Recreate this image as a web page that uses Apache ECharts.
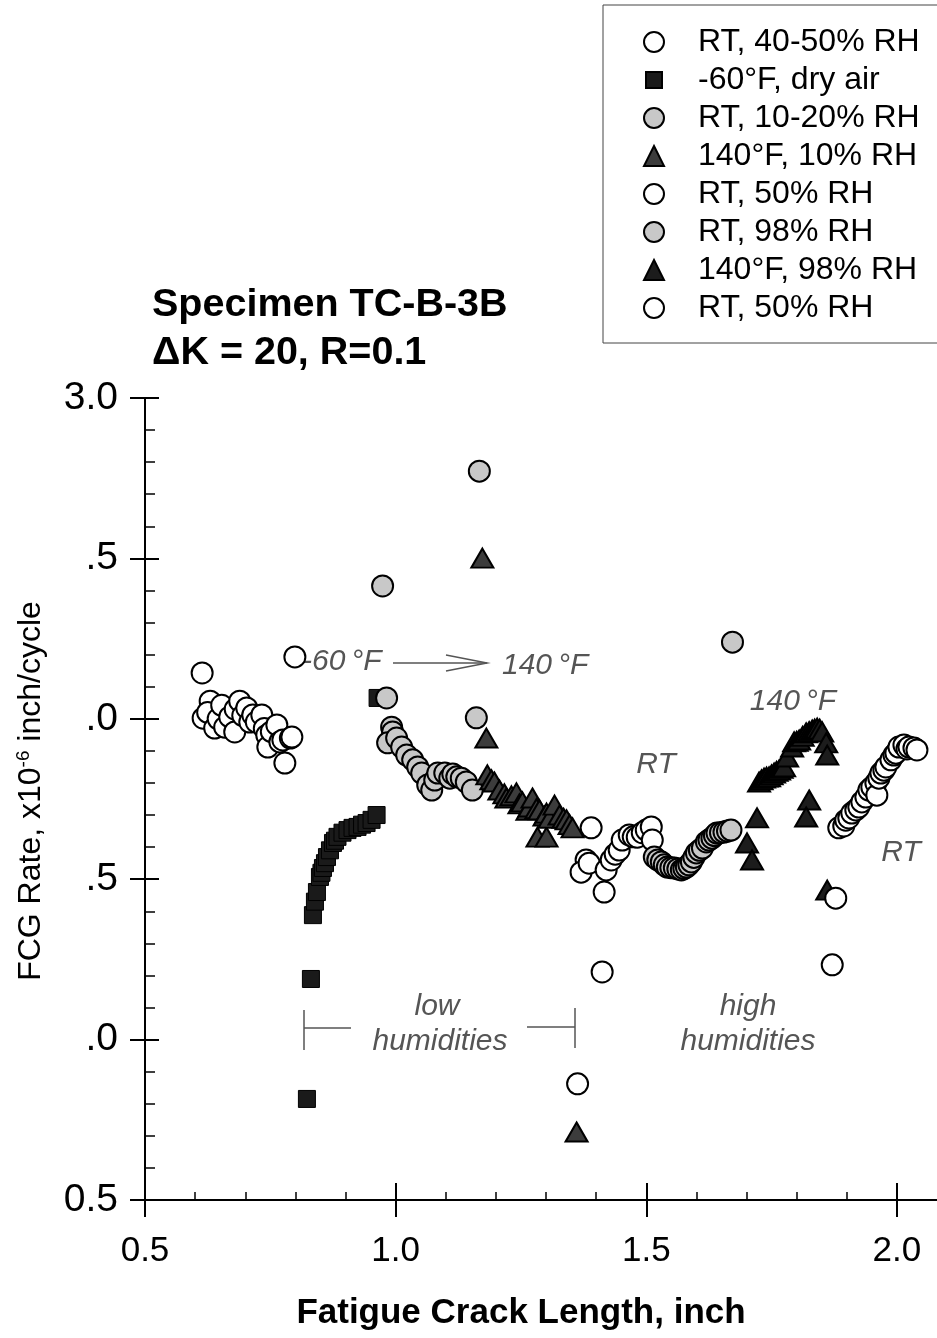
<!DOCTYPE html>
<html>
<head>
<meta charset="utf-8">
<script src="https://cdn.jsdelivr.net/npm/echarts@6/dist/echarts.min.js"></script>
<style>
html, body { margin: 0; padding: 0; background: #fff; }
#chart { width: 937px; height: 1338px; }
</style>
</head>
<body>
<div id="chart"></div>
<script>
// Crack length (inch), FCG rate pairs, one array per test environment
const rt4050 = [[0.614,2.143],[0.616,2.002],[0.630,2.055],[0.625,2.020],[0.639,1.971],[0.646,2.000],[0.653,2.042],[0.659,1.974],[0.669,2.006],[0.679,1.959],[0.680,2.030],[0.689,2.055],[0.695,2.010],[0.703,2.034],[0.709,1.990],[0.715,2.012],[0.722,1.990],[0.733,2.012],[0.738,1.970],[0.743,1.949],[0.745,1.912],[0.752,1.960],[0.763,1.981],[0.769,1.928],[0.775,1.934],[0.779,1.862],[0.790,1.940],[0.793,1.943],[0.799,2.193]];
const minus60Dry = [[0.823,0.815],[0.831,1.189],[0.835,1.388],[0.839,1.430],[0.843,1.460],[0.849,1.507],[0.852,1.520],[0.855,1.535],[0.859,1.550],[0.863,1.569],[0.869,1.590],[0.875,1.613],[0.879,1.620],[0.884,1.632],[0.894,1.645],[0.904,1.653],[0.914,1.660],[0.924,1.663],[0.933,1.670],[0.942,1.675],[0.952,1.685],[0.962,1.700],[0.964,2.065]];
const rt1020 = [[0.974,2.414],[0.982,2.065],[0.992,1.974],[0.994,1.959],[0.984,1.925],[1.002,1.940],[1.012,1.912],[1.022,1.887],[1.034,1.872],[1.044,1.850],[1.052,1.831],[1.064,1.794],[1.072,1.778],[1.078,1.809],[1.084,1.831],[1.098,1.831],[1.108,1.815],[1.114,1.828],[1.122,1.819],[1.131,1.815],[1.141,1.803],[1.153,1.778],[1.161,2.003],[1.167,2.772]];
const f140rh10 = [[1.173,2.501],[1.181,1.940],[1.183,1.825],[1.191,1.810],[1.197,1.803],[1.207,1.778],[1.217,1.766],[1.221,1.753],[1.231,1.760],[1.241,1.769],[1.247,1.735],[1.253,1.741],[1.263,1.715],[1.267,1.725],[1.273,1.753],[1.281,1.720],[1.287,1.716],[1.283,1.631],[1.297,1.697],[1.301,1.706],[1.301,1.631],[1.307,1.690],[1.317,1.731],[1.327,1.700],[1.335,1.690],[1.341,1.685],[1.347,1.670],[1.353,1.660],[1.361,0.712]];
const rt50a = [[1.390,1.660],[1.380,1.560],[1.370,1.522],[1.386,1.550],[1.416,1.460],[1.420,1.529],[1.430,1.560],[1.438,1.578],[1.446,1.591],[1.452,1.622],[1.466,1.638],[1.474,1.632],[1.482,1.631],[1.492,1.645],[1.500,1.653],[1.510,1.663],[1.512,1.622],[1.412,1.211],[1.363,0.862]];
const rt98 = [[1.516,1.569],[1.523,1.560],[1.530,1.554],[1.536,1.545],[1.542,1.538],[1.549,1.536],[1.556,1.535],[1.563,1.532],[1.570,1.529],[1.575,1.533],[1.580,1.538],[1.585,1.545],[1.590,1.554],[1.595,1.568],[1.600,1.582],[1.606,1.590],[1.612,1.597],[1.620,1.616],[1.625,1.622],[1.631,1.628],[1.636,1.636],[1.641,1.644],[1.648,1.645],[1.655,1.647],[1.662,1.650],[1.669,1.653],[1.672,2.239]];
const f140rh98 = [[1.701,1.613],[1.711,1.560],[1.721,1.691],[1.725,1.803],[1.730,1.810],[1.735,1.815],[1.740,1.818],[1.745,1.819],[1.750,1.825],[1.755,1.831],[1.760,1.836],[1.765,1.840],[1.770,1.846],[1.775,1.850],[1.781,1.881],[1.791,1.912],[1.795,1.928],[1.800,1.930],[1.805,1.934],[1.812,1.945],[1.819,1.956],[1.825,1.960],[1.831,1.965],[1.836,1.968],[1.841,1.971],[1.846,1.968],[1.851,1.959],[1.859,1.925],[1.861,1.887],[1.825,1.747],[1.819,1.694],[1.861,1.466]];
const rt50b = [[1.871,1.233],[1.878,1.441],[1.884,1.660],[1.894,1.666],[1.898,1.684],[1.904,1.691],[1.910,1.706],[1.918,1.716],[1.924,1.725],[1.930,1.741],[1.938,1.756],[1.944,1.778],[1.950,1.787],[1.958,1.800],[1.960,1.762],[1.964,1.815],[1.968,1.831],[1.974,1.840],[1.978,1.850],[1.988,1.872],[1.994,1.887],[1.998,1.893],[2.004,1.912],[2.014,1.918],[2.020,1.906],[2.024,1.912],[2.034,1.909],[2.040,1.903]];

const seriesNames = ['RT, 40-50% RH', '-60°F, dry air', 'RT, 10-20% RH', '140°F, 10% RH', 'RT, 50% RH', 'RT, 98% RH', '140°F, 98% RH', 'RT, 50% RH '];
const seriesData = [rt4050, minus60Dry, rt1020, f140rh10, rt50a, rt98, f140rh98, rt50b];

// Axis ticks and their printed labels
const xTickValues = [0.5, 1.0, 1.5, 2.0];
const xTickLabels = ['0.5', '1.0', '1.5', '2.0'];
const yTickValues = [0.5, 1.0, 1.5, 2.0, 2.5, 3.0];
const yTickLabels = ['0.5', '.0', '.5', '.0', '.5', '3.0'];

const FONT = '"Liberation Sans", Arial, sans-serif';
const GRAY_TEXT = '#555555';

// marker look per environment
const markerStyles = [
  { symbol: 'circle', size: 21, fill: '#ffffff' },
  { symbol: 'rect', size: 17, fill: '#1a1a1a' },
  { symbol: 'circle', size: 21, fill: '#c8c8c8' },
  { symbol: 'triangle', size: [22, 19], fill: '#3c3c3c' },
  { symbol: 'circle', size: 21, fill: '#ffffff' },
  { symbol: 'circle', size: 21, fill: '#c8c8c8' },
  { symbol: 'triangle', size: [22, 19], fill: '#1c1c1c' },
  { symbol: 'circle', size: 21, fill: '#ffffff' }
];

const series = seriesData.map((data, i) => ({
  type: 'scatter',
  name: seriesNames[i],
  data: data,
  symbol: markerStyles[i].symbol,
  symbolSize: markerStyles[i].size,
  itemStyle: { color: markerStyles[i].fill, borderColor: '#000', borderWidth: markerStyles[i].symbol === 'rect' ? 1 : 2, opacity: 1 },
  emphasis: { disabled: true },
  silent: true,
  clip: false
}));

const legendData = seriesNames.map((n, i) => {
  const item = { name: n };
  if (markerStyles[i].symbol === 'rect') item.icon = 'path://M0,0M2,2L18,2L18,18L2,18Z M20,20';
  return item;
});

const xMinorValues = [];
for (let v = 6; v <= 20; v++) if (v % 5 !== 0) xMinorValues.push(v / 10);

const tickLine = { color: '#000', width: 2 };
const xBase = { type: 'value', min: 0.5, max: 2.08, position: 'bottom', splitLine: { show: false }, minorSplitLine: { show: false } };
const yBase = { type: 'value', min: 0.5, max: 3.0, interval: 0.5, position: 'left', splitLine: { show: false }, minorSplitLine: { show: false } };

function labelFor(values, labels, v) {
  for (let i = 0; i < values.length; i++) if (Math.abs(values[i] - v) < 1e-6) return labels[i];
  return '';
}

const annot = (x, y, text, align) => ({
  type: 'text', x: x, y: y,
  style: { text: text, fontSize: 30, fontStyle: 'italic', fontFamily: FONT, fill: GRAY_TEXT, align: align || 'center', verticalAlign: 'middle' }
});
const segment = (x1, y1, x2, y2) => ({ type: 'line', shape: { x1: x1, y1: y1, x2: x2, y2: y2 }, style: { stroke: GRAY_TEXT, lineWidth: 1.5 } });

const option = {
  animation: false,
  backgroundColor: '#ffffff',
  grid: { left: 145, right: 0, top: 398, bottom: 138, containLabel: false, outerBoundsMode: 'none' },
  xAxis: [
    Object.assign({}, xBase, {
      axisLine: { show: true, onZero: false, lineStyle: { color: '#000', width: 2 } },
      axisTick: { show: true, inside: true, length: 17, customValues: xTickValues, lineStyle: tickLine },
      minorTick: { show: false },
      axisLabel: { show: true, margin: 34, fontSize: 35, color: '#000', fontFamily: FONT, customValues: xTickValues,
        formatter: v => labelFor(xTickValues, xTickLabels, v) }
    }),
    Object.assign({}, xBase, {
      axisLine: { show: false, onZero: false },
      axisTick: { show: true, inside: false, length: 17, customValues: xTickValues, lineStyle: tickLine },
      axisLabel: { show: false }
    }),
    Object.assign({}, xBase, {
      axisLine: { show: false, onZero: false },
      axisTick: { show: true, inside: true, length: 8, customValues: xMinorValues, lineStyle: { color: '#000', width: 1.5 } },
      axisLabel: { show: false }
    })
  ],
  yAxis: [
    Object.assign({}, yBase, {
      axisLine: { show: true, onZero: false, lineStyle: { color: '#000', width: 2 } },
      axisTick: { show: true, inside: true, length: 14, lineStyle: tickLine },
      minorTick: { show: true, splitNumber: 5, length: 10, lineStyle: { color: '#000', width: 1.5 } },
      axisLabel: { show: true, margin: 27, fontSize: 39, color: '#000', fontFamily: FONT,
        formatter: v => labelFor(yTickValues, yTickLabels, v) }
    }),
    Object.assign({}, yBase, {
      axisLine: { show: false, onZero: false },
      axisTick: { show: true, inside: false, length: 15, lineStyle: tickLine },
      minorTick: { show: false },
      axisLabel: { show: false }
    })
  ],
  legend: {
    show: true,
    orient: 'vertical',
    left: 603,
    top: 5,
    padding: [21, 40, 19, 40],
    itemWidth: 20,
    itemHeight: 20,
    itemGap: 6,
    borderColor: '#444',
    borderWidth: 1,
    backgroundColor: '#fff',
    selectedMode: false,
    textStyle: { fontSize: 32, color: '#000', fontFamily: FONT, padding: [0, 0, 0, 29] },
    data: legendData
  },
  graphic: [
    { type: 'text', x: 152, y: 305, style: { text: 'Specimen TC-B-3B', fontSize: 39.5, fontWeight: 'bold', fontFamily: FONT, fill: '#000', verticalAlign: 'middle' } },
    { type: 'text', x: 152, y: 353, style: { text: 'ΔK = 20, R=0.1', fontSize: 39.5, fontWeight: 'bold', fontFamily: FONT, fill: '#000', verticalAlign: 'middle' } },
    { type: 'text', x: 521, y: 1313, style: { text: 'Fatigue Crack Length, inch', fontSize: 35, fontWeight: 'bold', fontFamily: FONT, fill: '#000', align: 'center', verticalAlign: 'middle' } },
    { type: 'text', x: 31, y: 791, rotation: Math.PI / 2, style: {
        text: 'FCG Rate, x10{sup|-6} inch/cycle', fontSize: 32, fontFamily: FONT, fill: '#000', align: 'center', verticalAlign: 'middle', lineHeight: 34,
        rich: { sup: { fontSize: 19, fontFamily: FONT, fill: '#000', verticalAlign: 'top', lineHeight: 34 } } } },
    // temperature change annotation
    annot(302, 662, '-60\u2009°F', 'left'),
    segment(393, 663, 487, 663),
    { type: 'polyline', shape: { points: [[446, 655], [487, 663], [446, 671]] }, style: { stroke: GRAY_TEXT, lineWidth: 1.5, fill: null } },
    annot(502, 666, '140\u2009°F', 'left'),
    annot(656, 765, 'RT'),
    annot(793, 702, '140\u2009°F'),
    annot(901, 853, 'RT'),
    // humidity ranges
    annot(437, 1007, 'low'),
    annot(440, 1042, 'humidities'),
    annot(748, 1007, 'high'),
    annot(748, 1042, 'humidities'),
    segment(304, 1010, 304, 1050),
    segment(304, 1028, 351, 1028),
    segment(527, 1027, 575, 1027),
    segment(575, 1008, 575, 1048)
  ],
  series: series
};

const chart = echarts.init(document.getElementById('chart'), null, { renderer: 'canvas', width: 937, height: 1338 });
chart.setOption(option);
</script>
</body>
</html>
